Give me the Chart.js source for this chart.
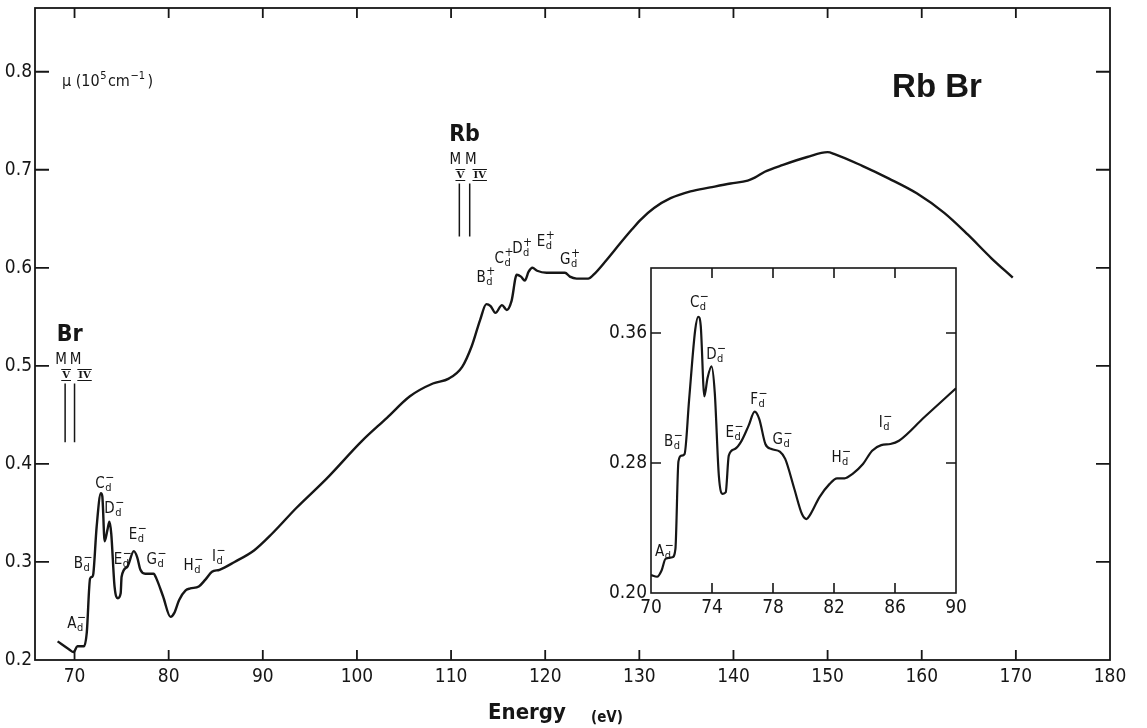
<!DOCTYPE html>
<html><head><meta charset="utf-8">
<script src="https://cdn.jsdelivr.net/npm/chart.js@4.4.1/dist/chart.umd.min.js"></script>
<style>
html,body{margin:0;padding:0;background:#fff;}
#wrap{position:relative;width:1147px;height:728px;overflow:hidden;}
#main{position:absolute;left:0;top:0;}
#inset{position:absolute;left:600px;top:255px;}
</style></head><body>
<div id="wrap"><canvas id="main" width="1147" height="728"></canvas><canvas id="inset" width="375" height="375"></canvas></div>
<script>
// ---------- main spectrum (RbBr absorption) ----------
const energy = [68.2,69.4,69.9,70.3,71.0,71.3,71.65,71.9,72.0,72.35,72.8,72.95,73.2,73.5,73.7,73.9,74.25,74.6,74.9,75.0,75.6,76.3,76.65,77.0,77.5,78.4,78.7,79.4,80.2,80.6,81.1,81.8,82.3,83.2,83.9,84.6,85.4,87.0,89.1,91.0,93.56,96.78,100.49,103.19,105.63,108.07,109.76,111.18,112.19,113.09,113.75,114.2,114.71,115.41,115.92,116.42,116.98,117.43,117.83,118.24,118.64,119.14,120.15,121.79,122.1,122.62,123.34,124.57,125.14,126.52,127.97,129.2,130.13,131.56,133.32,135.43,137.53,139.69,141.51,142.26,143.33,145.27,147.84,150.0,150.74,153.68,156.52,159.47,162.39,164.88,167.38,169.67];
const mu = [0.219,0.211,0.208,0.214,0.214,0.228,0.283,0.285,0.288,0.336,0.370,0.367,0.321,0.333,0.341,0.329,0.275,0.263,0.268,0.285,0.295,0.311,0.305,0.292,0.288,0.288,0.283,0.265,0.244,0.248,0.261,0.271,0.273,0.275,0.282,0.290,0.292,0.300,0.312,0.329,0.355,0.385,0.423,0.447,0.469,0.482,0.487,0.499,0.520,0.547,0.563,0.561,0.554,0.562,0.557,0.566,0.593,0.591,0.587,0.596,0.600,0.597,0.595,0.595,0.595,0.591,0.589,0.589,0.593,0.608,0.625,0.639,0.649,0.661,0.671,0.678,0.682,0.686,0.689,0.692,0.698,0.705,0.713,0.718,0.716,0.704,0.691,0.676,0.656,0.634,0.610,0.590];
const xTicks = [70,80,90,100,110,120,130,140,150,160,170,180];
const yTicks = [0.2,0.3,0.4,0.5,0.6,0.7,0.8];

// ---------- inset (70-90 eV detail) ----------
const insetEnergy = [70.0,70.4,70.7,70.95,71.4,71.6,71.8,72.0,72.2,72.5,72.9,73.1,73.26,73.5,73.7,73.97,74.18,74.45,74.7,74.9,75.1,75.5,75.9,76.4,76.8,77.1,77.5,77.9,78.45,78.8,79.4,79.9,80.2,80.4,81.05,81.7,82.2,82.7,83.2,83.9,84.5,85.1,85.7,86.26,87.9,90.0];
const insetMu = [0.211,0.210,0.214,0.221,0.222,0.227,0.281,0.2845,0.2855,0.319,0.362,0.370,0.3645,0.321,0.332,0.3395,0.3235,0.272,0.261,0.262,0.2845,0.2886,0.293,0.303,0.3116,0.307,0.2917,0.2886,0.287,0.2825,0.264,0.2486,0.2455,0.2476,0.259,0.267,0.2706,0.2706,0.2732,0.2794,0.2876,0.291,0.2917,0.2937,0.308,0.326];
const insetXTicks = [70,74,78,82,86,90];
const insetYTicks = [0.20,0.28,0.36];

// ---------- structure labels ----------
const peakLetters = ['A','B','C','D','E','E','G','H','I'];
const peakE  = [70.1,70.8,73.1,74.1,75.0,76.6,78.6,82.5,85.2];
const peakMu = [0.238,0.299,0.381,0.355,0.303,0.329,0.303,0.297,0.306];
const rbLetters = ['B','C','D','E','G'];
const rbE  = [113.59,115.51,117.43,119.94,122.51];
const rbMu = [0.591,0.610,0.620,0.627,0.609];
const insetLetters = ['A','B','C','D','E','F','G','H','I'];
const insetLabE  = [70.8,71.4,73.1,74.2,75.4,77.0,78.55,82.4,85.3];
const insetLabMu = [0.226,0.2937,0.3793,0.347,0.2989,0.3194,0.2948,0.2839,0.305];

// ---------- M-edge markers ----------
const edgeNames = ['Br','Rb'];
const edgeM5 = [69.0,110.88];
const edgeM4 = [70.0,111.98];
const edgeTop = [0.482,0.686];
const edgeBottom = [0.422,0.632];

const INK = '#161616';
const FONT = "'Liberation Sans Narrow','DejaVu Sans Condensed','Arial Narrow','Liberation Sans',sans-serif";
const pts = (xs, ys) => xs.map((x,i)=>({x, y:ys[i]}));

function framePlugin(tickLenX, tickLenY, lw){
  return { id:'frame', afterDraw(chart){
    const {ctx, chartArea:a} = chart; const xs = chart.scales.x, ys = chart.scales.y;
    ctx.save(); ctx.strokeStyle = INK; ctx.lineWidth = lw;
    ctx.strokeRect(a.left, a.top, a.right-a.left, a.bottom-a.top);
    ctx.beginPath();
    xs.ticks.forEach(t=>{ const p = xs.getPixelForValue(t.value); if (p < a.left+2 || p > a.right-2) return;
      ctx.moveTo(p, a.bottom); ctx.lineTo(p, a.bottom-tickLenX);
      ctx.moveTo(p, a.top); ctx.lineTo(p, a.top+tickLenX); });
    ys.ticks.forEach(t=>{ const p = ys.getPixelForValue(t.value); if (p < a.top+2 || p > a.bottom-2) return;
      ctx.moveTo(a.left, p); ctx.lineTo(a.left+tickLenY, p);
      ctx.moveTo(a.right, p); ctx.lineTo(a.right-tickLenY, p); });
    ctx.stroke(); ctx.restore();
  }};
}

function drawPeak(ctx, cx, cy, letter, sign){
  ctx.font = `15px ${FONT}`; const wL = ctx.measureText(letter).width;
  ctx.font = `11px ${FONT}`; const wd = ctx.measureText('d').width;
  const x0 = cx - (wL + wd + 1)/2;
  ctx.textAlign = 'left'; ctx.textBaseline = 'alphabetic';
  ctx.font = `15px ${FONT}`; ctx.fillText(letter, x0, cy+5);
  ctx.font = `11px ${FONT}`; ctx.fillText('d', x0+wL+0.5, cy+8);
  ctx.font = `12px ${FONT}`; ctx.fillText(sign, x0+wL+0.5, cy-2);
}

function drawNumeral(ctx, cx, cy, txt){
  ctx.font = `bold 10px 'DejaVu Serif','Liberation Serif',serif`;
  const w = ctx.measureText(txt).width;
  ctx.textAlign='center'; ctx.textBaseline='middle';
  ctx.fillText(txt, cx, cy+1);
  ctx.beginPath(); ctx.lineWidth = 1.2;
  ctx.moveTo(cx-w/2-1, cy-5); ctx.lineTo(cx+w/2+1, cy-5);
  ctx.moveTo(cx-w/2-1, cy+6); ctx.lineTo(cx+w/2+1, cy+6);
  ctx.stroke();
}

const mainAnno = { id:'mainAnno', afterDraw(chart){
  const {ctx} = chart; const xs = chart.scales.x, ys = chart.scales.y;
  ctx.save(); ctx.fillStyle = INK; ctx.strokeStyle = INK;
  // y-axis quantity label
  let x = 62, b = 86;
  ctx.textAlign='left'; ctx.textBaseline='alphabetic';
  ctx.font = `16px ${FONT}`; ctx.fillText('\u03bc (10', x, b); x += ctx.measureText('\u03bc (10').width;
  ctx.font = `11px ${FONT}`; ctx.fillText('5', x+0.5, b-7); x += ctx.measureText('5').width + 2;
  ctx.font = `16px ${FONT}`; ctx.fillText('cm', x, b); x += ctx.measureText('cm').width;
  ctx.font = `11px ${FONT}`; ctx.fillText('\u22121', x+0.5, b-7); x += ctx.measureText('\u22121').width + 3;
  ctx.font = `16px ${FONT}`; ctx.fillText(')', x, b);
  // compound name
  ctx.font = `bold 33px 'Liberation Sans','Helvetica',Arial,sans-serif`;
  ctx.textAlign='center'; ctx.fillText('Rb Br', 937, 97);
  // x title
  ctx.font = `bold 22px ${FONT}`; ctx.fillText('Energy', 527, 719);
  ctx.font = `bold 15px ${FONT}`; ctx.fillText('(eV)', 607, 722);
  // edges
  edgeNames.forEach((nm,i)=>{
    const x5 = xs.getPixelForValue(edgeM5[i]), x4 = xs.getPixelForValue(edgeM4[i]);
    const yt = ys.getPixelForValue(edgeTop[i]), yb = ys.getPixelForValue(edgeBottom[i]);
    ctx.lineWidth = 1.5; ctx.beginPath();
    ctx.moveTo(x5, yt); ctx.lineTo(x5, yb); ctx.moveTo(x4, yt); ctx.lineTo(x4, yb); ctx.stroke();
    ctx.textAlign='center'; ctx.textBaseline='middle';
    ctx.font = `bold 23px ${FONT}`; ctx.fillText(nm, (x5+x4)/2, yt-48);
    ctx.font = `15px ${FONT}`;
    ctx.fillText('M', x5-4, yt-23); ctx.fillText('M', x4+1, yt-23);
    drawNumeral(ctx, x5+1, yt-9, 'V'); drawNumeral(ctx, x4+10, yt-9, 'IV');
  });
  // structure labels
  peakLetters.forEach((L,i)=> drawPeak(ctx, xs.getPixelForValue(peakE[i]), ys.getPixelForValue(peakMu[i]), L, '\u2212'));
  rbLetters.forEach((L,i)=> drawPeak(ctx, xs.getPixelForValue(rbE[i]), ys.getPixelForValue(rbMu[i]), L, '+'));
  ctx.restore();
}};

const insetAnno = { id:'insetAnno', afterDraw(chart){
  const {ctx} = chart; const xs = chart.scales.x, ys = chart.scales.y;
  ctx.save(); ctx.fillStyle = INK;
  insetLetters.forEach((L,i)=> drawPeak(ctx, xs.getPixelForValue(insetLabE[i]), ys.getPixelForValue(insetLabMu[i]), L, '\u2212'));
  ctx.restore();
}};

function zeroPad(s){ s.paddingTop = 0; s.paddingBottom = 0; s.paddingLeft = 0; s.paddingRight = 0; }

function axisCfg(min, max, ticks, fmt, fitFn, pad, size){
  return { type:'linear', min, max,
    grid:{display:false, drawTicks:false}, border:{display:false},
    afterBuildTicks: s => { s.ticks = ticks.map(v=>({value:v})); },
    afterFit: s => { fitFn(s); zeroPad(s); },
    ticks:{ color:INK, font:{family:FONT, size}, padding:pad, autoSkip:false, maxRotation:0, callback: v => fmt(v) } };
}

new Chart(document.getElementById('main'), {
  type:'scatter',
  data:{ datasets:[{ data: pts(energy, mu), showLine:true, borderColor:INK, borderWidth:2.4,
    pointRadius:0, cubicInterpolationMode:'monotone', fill:false }] },
  options:{ responsive:false, animation:false, devicePixelRatio:1,
    layout:{ padding:{ left:0, top:8, right:37, bottom:0 } },
    plugins:{ legend:{display:false}, tooltip:{enabled:false} },
    scales:{
      x: axisCfg(65.8, 180, xTicks, v=>String(v), s=>{ s.height = 68; }, 6, 19),
      y: axisCfg(0.2, 0.865, yTicks, v=>v.toFixed(1), s=>{ s.width = 35; }, 3, 19)
    } },
  plugins:[ framePlugin(10, 14, 1.8), mainAnno ]
});

new Chart(document.getElementById('inset'), {
  type:'scatter',
  data:{ datasets:[{ data: pts(insetEnergy, insetMu), showLine:true, borderColor:INK, borderWidth:2.2,
    pointRadius:0, cubicInterpolationMode:'monotone', fill:false }] },
  options:{ responsive:false, animation:false, devicePixelRatio:1,
    layout:{ padding:{ left:0, top:13, right:19, bottom:0 } },
    plugins:{ legend:{display:false}, tooltip:{enabled:false} },
    scales:{
      x: axisCfg(70, 90, insetXTicks, v=>String(v), s=>{ s.height = 37; }, 4, 19),
      y: axisCfg(0.2, 0.40, insetYTicks, v=>v.toFixed(2), s=>{ s.width = 51; }, 4, 19)
    } },
  plugins:[ framePlugin(10, 10, 1.6), insetAnno ]
});
</script>
</body></html>
